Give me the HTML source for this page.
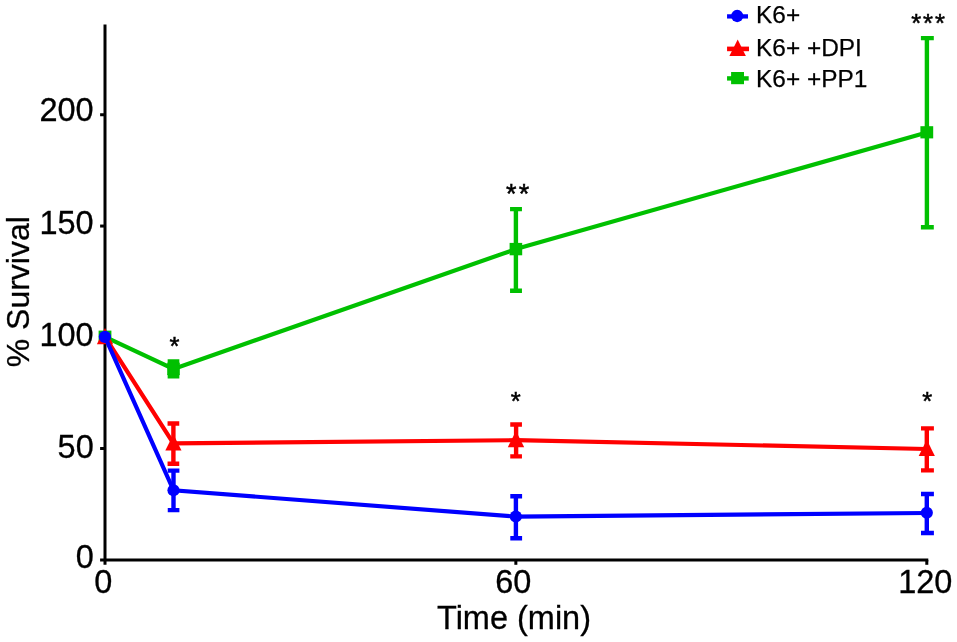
<!DOCTYPE html>
<html lang="en">
<head>
<meta charset="utf-8">
<title>% Survival vs Time (min)</title>
<style>
html,body{margin:0;padding:0;background:#fff;}
body{width:957px;height:642px;overflow:hidden;}
svg{display:block;}
text{font-family:"Liberation Sans",Arial,Helvetica,sans-serif;fill:#000;}
.ax{font-size:32.5px;stroke:#000;stroke-width:0.3px;}
.lg{font-size:24.4px;stroke:#000;stroke-width:0.25px;}
.st{font-size:25.6px;stroke:#000;stroke-width:0.5px;}
</style>
</head>
<body>
<svg width="957" height="642" viewBox="0 0 957 642">
<rect x="0" y="0" width="957" height="642" fill="#fff"/>

<!-- axes -->
<g stroke="#000" stroke-width="3" fill="none" stroke-linecap="butt">
  <line x1="105" y1="24.5" x2="105" y2="564.8"/>
  <line x1="100.1" y1="560.1" x2="928.3" y2="560.1"/>
  <line x1="100.1" y1="114.75" x2="105" y2="114.75"/>
  <line x1="100.1" y1="226.05" x2="105" y2="226.05"/>
  <line x1="100.1" y1="337.45" x2="105" y2="337.45"/>
  <line x1="100.1" y1="448.5" x2="105" y2="448.5"/>
  <line x1="515.85" y1="560" x2="515.85" y2="564.8"/>
  <line x1="926.8" y1="560" x2="926.8" y2="564.8"/>
</g>

<!-- y tick labels -->
<g class="ax" text-anchor="end">
  <text transform="translate(93.7,121) scale(1,1.035)">200</text>
  <text transform="translate(93.7,234.4) scale(1,1.035)">150</text>
  <text transform="translate(93.7,345.9) scale(1,1.035)">100</text>
  <text transform="translate(93.7,458.2) scale(1,1.035)">50</text>
  <text transform="translate(93.7,567.6) scale(1,1.035)">0</text>
</g>
<!-- x tick labels -->
<g class="ax" text-anchor="middle">
  <text transform="translate(103.3,593.3) scale(1,1.035)">0</text>
  <text transform="translate(513.3,593.3) scale(1,1.035)">60</text>
  <text transform="translate(925.3,593.3) scale(1,1.035)">120</text>
  <text transform="translate(514,628.7) scale(1,1.02)">Time (min)</text>
</g>
<text class="ax" style="font-size:32px" text-anchor="middle" transform="translate(29.3,291.7) rotate(-90) scale(1,0.985)">% Survival</text>

<!-- green series -->
<g stroke="#00c000" stroke-width="4.4" fill="none" stroke-linejoin="miter">
  <polyline stroke-width="4.2" points="105,336.8 173.5,368.9 515.9,249.1 926.8,132.4"/>
  <path d="M173.5,361.4V376.3M167.65,361.4H179.35M167.65,376.3H179.35"/>
  <path d="M515.9,209.1V290.8M510.05,209.1H521.95M510.05,290.8H521.95"/>
  <path d="M926.9,38.1V227.2M920.9,38.1H933.8M920.9,227.2H933.8"/>
</g>
<g fill="#00c000">
  <rect x="98.6" y="330.6" width="12.8" height="12.4"/>
  <rect x="167.2" y="362.7" width="12.6" height="12.4"/>
  <rect x="509.6" y="242.9" width="12.6" height="12.4"/>
  <rect x="920.4" y="126.2" width="12.8" height="12.2"/>
</g>

<!-- red series -->
<g stroke="#ff0000" stroke-width="4.4" fill="none">
  <polyline stroke-width="4.2" points="105,336.8 173.4,443.3 516,440.2 926.8,449"/>
  <path d="M173.4,423.5V463.8M167.55,423.5H179.25M167.55,463.8H179.25"/>
  <path d="M516.1,424.45V456.4M510.25,424.45H521.95M510.25,456.4H521.95"/>
  <path d="M926.8,428.35V470.4M921,428.35H933.9M921,470.4H933.9"/>
</g>
<g fill="#ff0000">
  <path d="M105,327.9L113.1,344.2H96.9Z"/>
  <path d="M173.4,434.2L181.5,450.5H165.3Z"/>
  <path d="M516,431L524.2,447.2H507.8Z"/>
  <path d="M926.8,439.7L934.9,456H918.7Z"/>
</g>

<!-- blue series -->
<g stroke="#0000ff" stroke-width="4.4" fill="none">
  <polyline stroke-width="4.2" points="105,336.8 173.5,490.3 515.8,516.6 926.8,513"/>
  <path d="M173.5,470.6V510.1M167.75,470.6H179.4M167.75,510.1H179.4"/>
  <path d="M515.9,496.2V538.2M510.3,496.2H522.1M510.3,538.2H522.1"/>
  <path d="M926.8,494V533M921,494H933.9M921,533H933.9"/>
</g>
<g fill="#0000ff">
  <circle cx="104.9" cy="336.8" r="6.15"/>
  <circle cx="173.5" cy="490.3" r="6.1"/>
  <circle cx="515.8" cy="516.5" r="6.1"/>
  <circle cx="926.8" cy="512.8" r="6.1"/>
</g>

<!-- significance stars -->
<g class="st" text-anchor="middle">
  <text x="174.5" y="355">*</text>
  <text x="515.8" y="409.5">*</text>
  <text x="927.35" y="409.5">*</text>
  <text x="511.3 524.1" y="202.9" style="font-size:27px">**</text>
  <text x="916.2 928 940" y="32.2">***</text>
</g>

<!-- legend -->
<g>
  <line x1="727.05" y1="16.4" x2="748" y2="16.4" stroke="#0000ff" stroke-width="4.3"/>
  <circle cx="737.2" cy="16" r="6.15" fill="#0000ff"/>
  <line x1="727.05" y1="48.9" x2="749" y2="48.9" stroke="#ff0000" stroke-width="4.6"/>
  <path d="M737.7,39.5L745.9,56H729.4Z" fill="#ff0000"/>
  <line x1="727.05" y1="78.4" x2="748.7" y2="78.4" stroke="#00c000" stroke-width="4.4"/>
  <rect x="731.1" y="72" width="12.9" height="12.2" fill="#00c000"/>
  <g class="lg">
    <text x="756.1" y="23.3">K6+</text>
    <text x="756.1" y="55.7">K6+ +DPI</text>
    <text x="756.1" y="87.1">K6+ +PP1</text>
  </g>
</g>
</svg>
</body>
</html>
